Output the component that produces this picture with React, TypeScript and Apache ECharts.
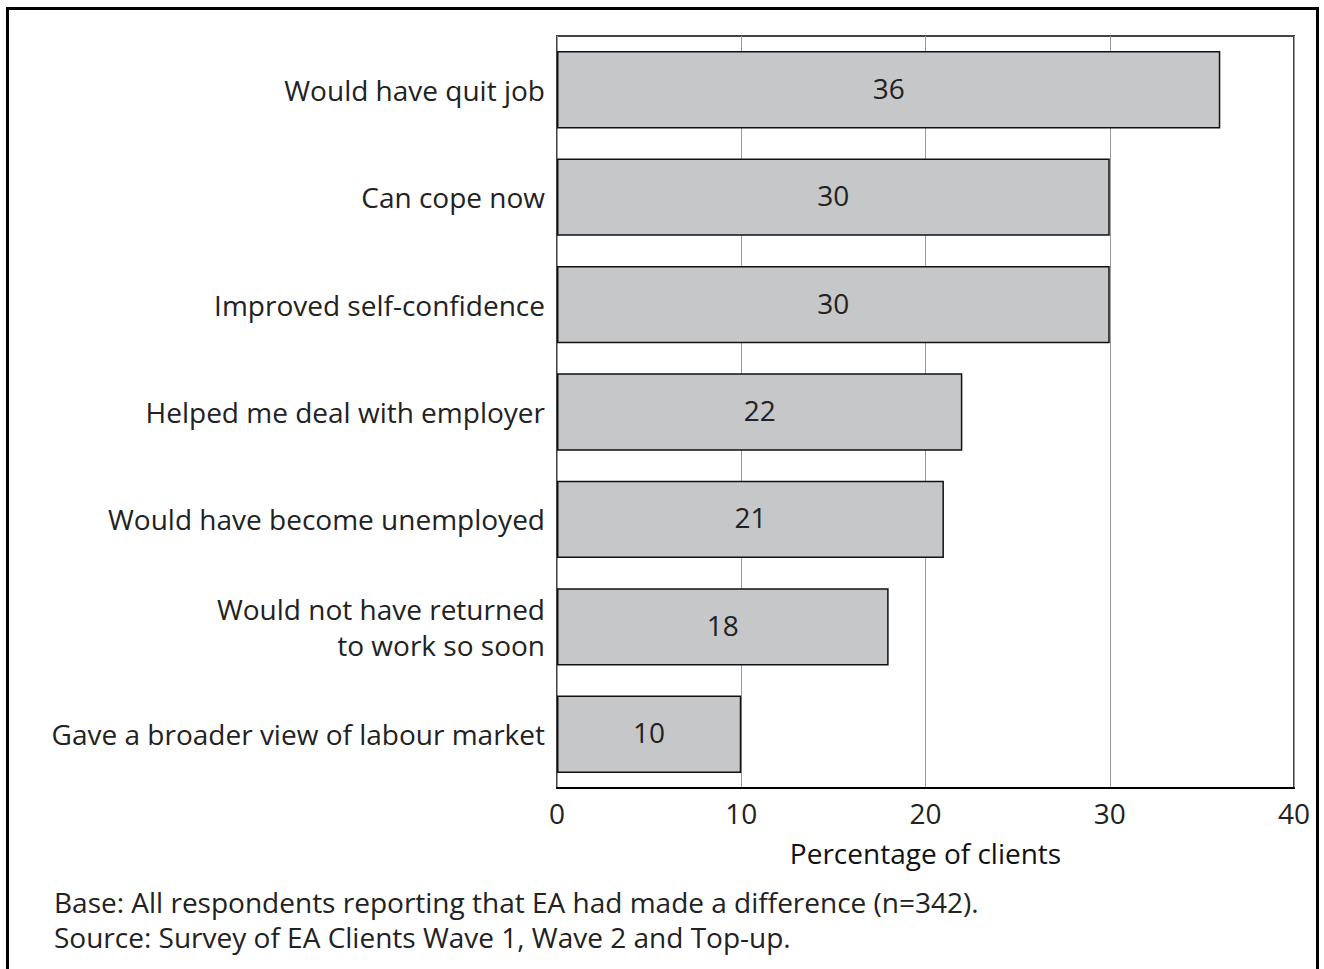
import React, { useEffect, useRef } from "react";
import * as echarts from "echarts";

const categories = [
  "Would have quit job",
  "Can cope now",
  "Improved self-confidence",
  "Helped me deal with employer",
  "Would have become unemployed",
  "Would not have returned\nto work so soon",
  "Gave a broader view of labour market",
];
const values = [36, 30, 30, 22, 21, 18, 10];
const axisTitle = "Percentage of clients";
const notes = [
  "Base: All respondents reporting that EA had made a difference (n=342).",
  "Source: Survey of EA Clients Wave 1, Wave 2 and Top-up.",
];

const FONT = "'Open Sans', sans-serif";
const FS = 28;

export default function App() {
  const ref = useRef<HTMLDivElement>(null);
  useEffect(() => {
    if (!ref.current) return;
    const chart = echarts.init(ref.current, undefined, { renderer: "svg" });
    chart.setOption({
      animation: false,
      backgroundColor: "#ffffff",
      textStyle: { fontFamily: FONT },
      grid: {
        left: 557,
        right: 30,
        top: 36,
        bottom: 181,
        show: true,
        borderColor: "#444444",
        borderWidth: 2,
        containLabel: false,
      },
      xAxis: {
        type: "value",
        min: 0,
        max: 40,
        interval: 10,
        axisLine: { show: true, lineStyle: { color: "#000", width: 2 } },
        axisTick: { show: false },
        splitLine: { show: true, lineStyle: { color: "#999999", width: 1 } },
        axisLabel: { fontSize: FS, color: "#222", margin: 11, fontFamily: FONT },
        name: axisTitle,
        nameLocation: "middle",
        nameGap: 51,
        nameTextStyle: { fontSize: FS, color: "#111", fontFamily: FONT },
      },
      yAxis: {
        type: "category",
        data: categories,
        inverse: true,
        axisLine: { show: false },
        axisTick: { show: false },
        axisLabel: {
          fontSize: FS,
          color: "#222",
          margin: 12,
          lineHeight: 36,
          align: "right",
          fontFamily: FONT,
        },
      },
      series: [
        {
          type: "bar",
          data: values,
          barWidth: "72%",
          itemStyle: { color: "#c6c7c9", borderColor: "#111", borderWidth: 1.5 },
          label: {
            show: true,
            position: "inside",
            fontSize: FS,
            color: "#222",
            fontFamily: FONT,
            offset: [0, -2],
          },
        },
      ],
      graphic: [
        {
          type: "rect",
          shape: { x: 7.5, y: 8.5, width: 1310, height: 1000 },
          style: { fill: "none", stroke: "#000", lineWidth: 3 },
          silent: true,
        },
        {
          type: "text",
          left: 54,
          top: 888,
          style: { text: notes[0], fontSize: FS, fill: "#222", fontFamily: FONT },
        },
        {
          type: "text",
          left: 54,
          top: 923,
          style: { text: notes[1], fontSize: FS, fill: "#222", fontFamily: FONT },
        },
      ],
    });
    return () => chart.dispose();
  }, []);
  return (
    <div
      ref={ref}
      style={{ position: "fixed", left: 0, top: 0, width: 1324, height: 969 }}
    />
  );
}
